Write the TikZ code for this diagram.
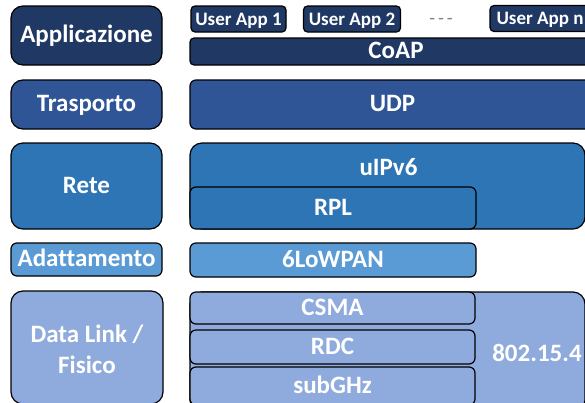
\documentclass[tikz,border=0pt]{standalone}
\usepackage{fontspec}
\setmainfont{Carlito}[Ligatures={TeX,NoCommon}]
\definecolor{navy}{HTML}{203864}
\definecolor{darkblue}{HTML}{2F5597}
\definecolor{midblue}{HTML}{2E75B6}
\definecolor{lightblue}{HTML}{5B9BD5}
\definecolor{paleblue}{HTML}{8FAADC}

\begin{document}
\begin{tikzpicture}
            [x=1pt, y=-1pt,
             txt/.style={text=white, inner sep=0pt, font=\fontsize{25}{31}\selectfont\bfseries, text height=18pt, text depth=4pt},
             layer/.style={txt, shape=rectangle, draw=black, line width=1.2pt, rounded corners=12pt},
             thinlayer/.style={layer, rounded corners=6pt},
             userapp/.style={thinlayer, rounded corners=4pt, font=\fontsize{19}{23}\selectfont\bfseries, text height=15pt, text depth=3pt}]
            \useasboundingbox (0, 0) rectangle (585, 402);
            \clip (0, 0) rectangle (585, 402);

            \node[layer, fill=navy, minimum width=151pt, minimum height=59pt] (applicazione) at (86.5, 35.5) {Applicazione};
            \node[layer, fill=darkblue, minimum width=151pt, minimum height=49pt] (trasporto) at (86.5, 104.5) {Trasporto};
            \node[layer, fill=midblue, minimum width=151pt, minimum height=86pt] (rete) at (86.5, 186) {Rete};
            \node[thinlayer, fill=lightblue, minimum width=151pt, minimum height=33pt] (adattamento) at (86.5, 259.5) {Adattamento};
            \node[layer, fill=paleblue, minimum width=152pt, minimum height=113pt] (datalink) at (87, 347.5) {};
            \node[txt, align=center, text height=, text depth=] (datalinktxt) at (87, 349) {Data Link /\\Fisico};

            \node[userapp, fill=navy, minimum width=95pt, minimum height=26pt] (userapp1) at (238.5, 19) {User App 1};
            \node[userapp, fill=navy, minimum width=97pt, minimum height=26pt] (userapp2) at (352, 19) {User App 2};
            \node[text=gray, inner sep=0pt, font=\fontsize{19}{23}\selectfont] (dots) at (441, 21) {-\kern3pt-\kern3pt-};
            \node[userapp, fill=navy, minimum width=100pt, minimum height=26pt] (userappn) at (540, 18.5) {User App n};
            \node[thinlayer, rounded corners=4pt, fill=navy, minimum width=412pt, minimum height=27pt] (coap) at (396, 51.5) {CoAP};

            \node[thinlayer, fill=darkblue, minimum width=405pt, minimum height=49pt] (udp) at (392.5, 104.5) {UDP};

            \node[layer, fill=midblue, minimum width=395pt, minimum height=86pt] (ipv6) at (387.5, 186) {};
            \node[txt] (ipv6txt) at (388.5, 168) {uIPv6};
            \node[thinlayer, fill=midblue, minimum width=286pt, minimum height=42pt] (rpl) at (333, 208) {RPL};

            \node[thinlayer, fill=lightblue, minimum width=286pt, minimum height=34pt] (lowpan) at (333, 260) {6LoWPAN};

            \node[layer, fill=paleblue, minimum width=395pt, minimum height=120pt] (ieee) at (387.5, 352) {};
            \node[txt] (ieeetxt) at (537, 354) {802.15.4};
            \node[thinlayer, fill=paleblue, minimum width=285pt, minimum height=32pt] (csma) at (332.5, 308) {CSMA};
            \node[thinlayer, fill=paleblue, minimum width=285pt, minimum height=34pt] (rdc) at (332.5, 347) {RDC};
            \node[thinlayer, fill=paleblue, minimum width=285pt, minimum height=38pt] (subghz) at (332.5, 386) {subGHz};
        \end{tikzpicture}
\end{document}
